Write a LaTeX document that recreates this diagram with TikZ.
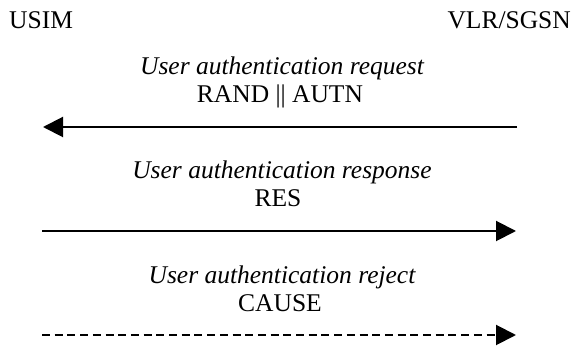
\documentclass[tikz,border=0pt]{standalone}
\usepackage{fontspec}
\setmainfont{Liberation Serif}
\usetikzlibrary{arrows.meta}
\begin{document}
\begin{tikzpicture}[x=1pt,y=-1pt,
  lbl/.style={inner sep=0pt,anchor=base,font=\fontsize{25.5}{29}\selectfont},
  msg/.style={line width=2pt,-{Triangle[length=20pt,width=20pt]}},
  dmsg/.style={msg,dash pattern=on 8pt off 4.7pt}]
\useasboundingbox (0,0) rectangle (579,347);
\node[lbl,anchor=base west] (usim) at (9,29) {USIM};
\node[lbl,anchor=base east] (vlr) at (571,29) {VLR/SGSN};
% message 1
\node[lbl] (m1a) at (282,75) {\itshape User authentication request};
\node[lbl] (m1b) at (280,103) {RAND || AUTN};
\coordinate (a1r) at (517,127);
\coordinate (a1l) at (43,127);
\draw[msg] (a1r) -- (a1l);
% message 2
\node[lbl] (m2a) at (282,179) {\itshape User authentication response};
\node[lbl] (m2b) at (278,207) {RES};
\coordinate (a2l) at (42,231);
\coordinate (a2r) at (516,231);
\draw[msg] (a2l) -- (a2r);
% message 3
\node[lbl] (m3a) at (282,284) {\itshape User authentication reject};
\node[lbl] (m3b) at (280,312) {CAUSE};
\coordinate (a3l) at (42,335);
\coordinate (a3r) at (516,335);
\draw[dmsg] (a3l) -- (a3r);
\end{tikzpicture}
\end{document}
